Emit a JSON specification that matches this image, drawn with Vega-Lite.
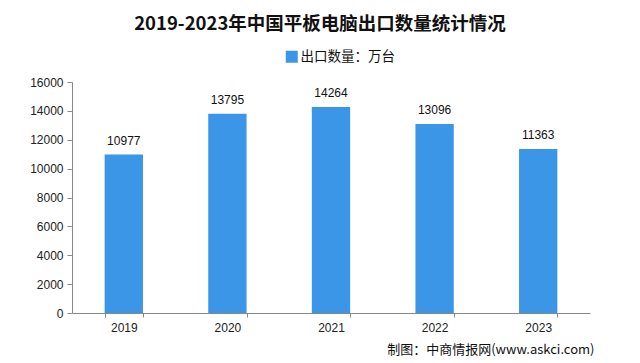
{
  "$schema": "https://vega.github.io/schema/vega-lite/v6.json",
  "width": 518,
  "height": 231,
  "autosize": {"type": "none"},
  "padding": {"left": 72, "top": 82, "right": 50, "bottom": 50},
  "background": "white",
  "config": {
    "font": "Noto Sans CJK SC",
    "view": {"stroke": null}
  },
  "title": {
    "text": "2019-2023年中国平板电脑出口数量统计情况",
    "anchor": "middle",
    "fontSize": 18.5,
    "fontWeight": "bold",
    "color": "#111111",
    "dx": -11,
    "offset": 17
  },
  "data": {
    "values": [
      {"year": "2019", "value": 10977, "series": "出口数量：万台"},
      {"year": "2020", "value": 13795, "series": "出口数量：万台"},
      {"year": "2021", "value": 14264, "series": "出口数量：万台"},
      {"year": "2022", "value": 13096, "series": "出口数量：万台"},
      {"year": "2023", "value": 11363, "series": "出口数量：万台"}
    ]
  },
  "encoding": {
    "x": {
      "field": "year",
      "type": "ordinal",
      "scale": {"paddingInner": 0.63, "paddingOuter": 0.315},
      "axis": {
        "title": "制图：中商情报网(www.askci.com)",
        "titleFontSize": 13,
        "titleFontWeight": "normal",
        "titleColor": "#111111",
        "titleAnchor": "end",
        "titleAlign": "right",
        "titleBaseline": "middle",
        "titleX": 522,
        "titleY": 36,
        "labelAngle": 0,
        "labelFontSize": 12,
        "labelColor": "#222222",
        "labelPadding": 5,
        "tickBand": "extent",
        "tickSize": 4,
        "tickColor": "#888888",
        "domainColor": "#888888",
        "labelFont": "Liberation Sans"
      }
    },
    "y": {
      "field": "value",
      "type": "quantitative",
      "scale": {"domain": [0, 16000]},
      "axis": {
        "title": null,
        "values": [0, 2000, 4000, 6000, 8000, 10000, 12000, 14000, 16000],
        "format": "d",
        "grid": false,
        "labelFontSize": 12,
        "labelFont": "Liberation Sans",
        "labelColor": "#222222",
        "tickSize": 5,
        "labelPadding": 4,
        "tickColor": "#888888",
        "domainColor": "#888888"
      }
    }
  },
  "layer": [
    {
      "mark": {"type": "bar"},
      "encoding": {
        "color": {
          "field": "series",
          "type": "nominal",
          "scale": {"range": ["#3c96e8"]},
          "legend": {
            "title": null,
            "orient": "none",
            "legendX": 213,
            "legendY": -32,
            "padding": 0,
            "symbolType": "square",
            "symbolSize": 144,
            "symbolStrokeWidth": 0,
            "labelFontSize": 13.5,
            "labelColor": "#111111",
            "labelOffset": 2
          }
        }
      }
    },
    {
      "mark": {"type": "text", "baseline": "bottom", "dy": -7, "fontSize": 12, "font": "Liberation Sans", "color": "#111111"},
      "encoding": {
        "text": {"field": "value", "type": "quantitative", "format": "d"}
      }
    }
  ]
}
